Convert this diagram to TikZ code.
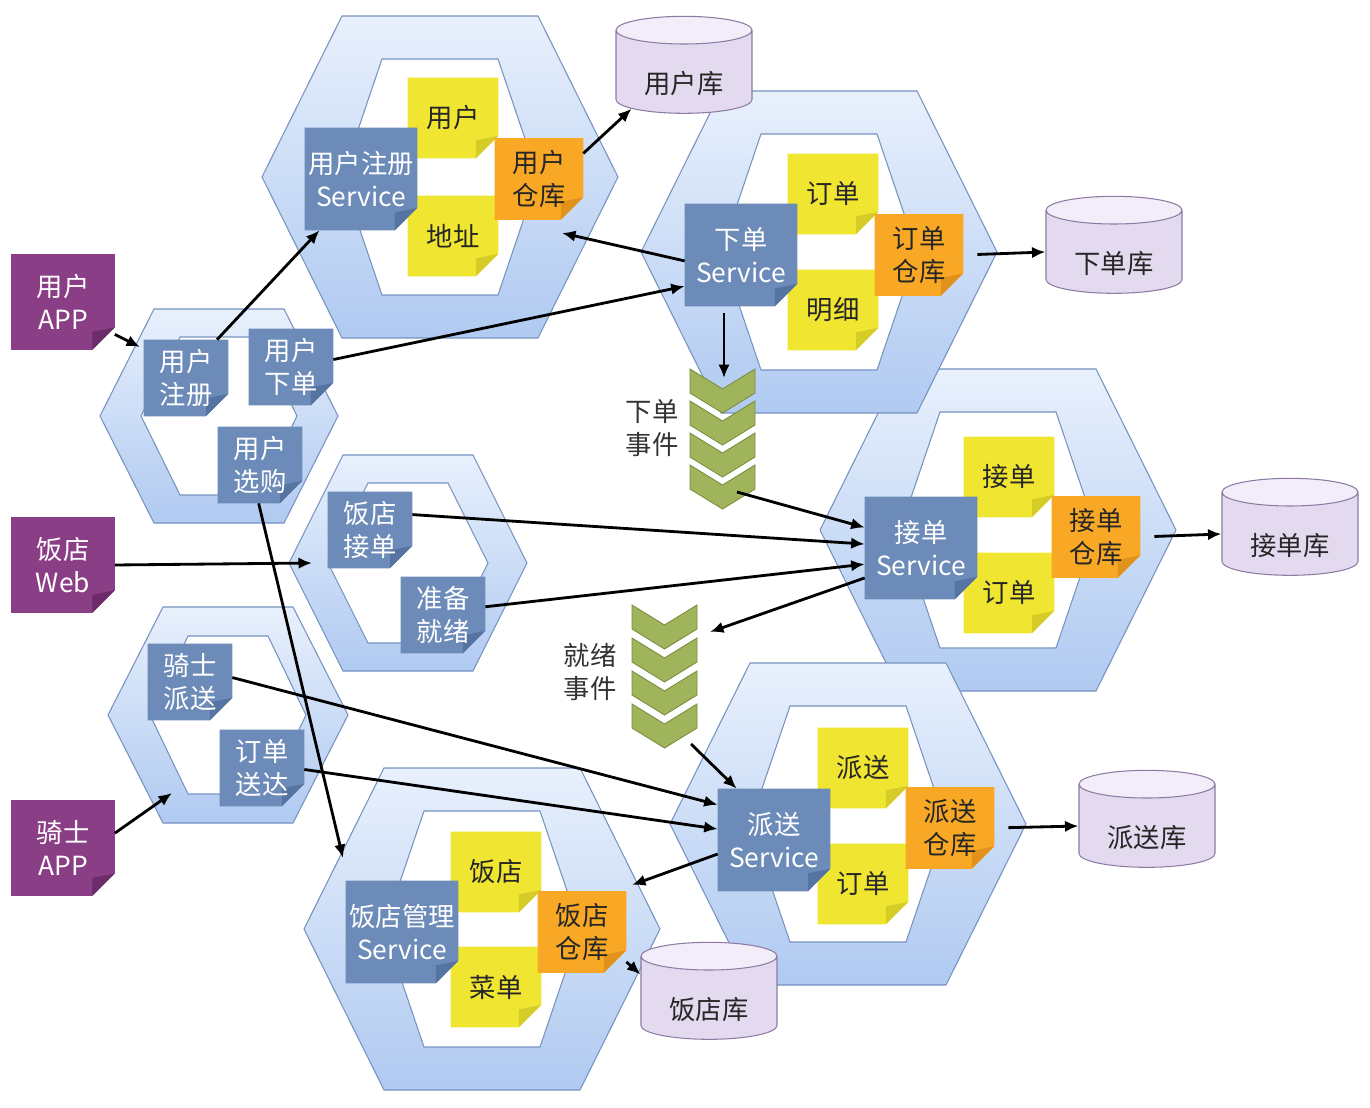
\documentclass[tikz,border=0pt]{standalone}
\usepackage{fontspec}
\setmainfont{Noto Sans CJK SC}
\usepackage{tikz}
\usetikzlibrary{arrows.meta,shapes.geometric}
\definecolor{hextop}{RGB}{232,240,252}
\definecolor{hexbot}{RGB}{176,202,241}
\definecolor{hexline}{RGB}{118,146,192}
\definecolor{svcblue}{RGB}{108,139,184}
\definecolor{svcfold}{RGB}{86,116,162}
\definecolor{noteyellow}{RGB}{240,230,50}
\definecolor{yellowfold}{RGB}{214,204,40}
\definecolor{repoorange}{RGB}{248,168,36}
\definecolor{orangefold}{RGB}{224,146,28}
\definecolor{apppurple}{RGB}{138,62,134}
\definecolor{purplefold}{RGB}{108,44,106}
\definecolor{dbbody}{RGB}{228,218,240}
\definecolor{dbtop}{RGB}{242,237,248}
\definecolor{dbline}{RGB}{140,124,164}
\definecolor{evgreen}{RGB}{160,180,92}
\definecolor{evline}{RGB}{122,142,62}
\pgfdeclarelayer{hexes}
\pgfdeclarelayer{notes}
\pgfsetlayers{hexes,notes,main}
\tikzset{
  note/.style 2 args={rectangle, inner sep=0pt, align=center,
    append after command={\pgfextra{\begin{pgfinterruptpath}\begin{pgfonlayer}{notes}
      \fill[#1] (\tikzlastnode.north west) -- (\tikzlastnode.north east)
        -- ([yshift=4.5mm]\tikzlastnode.south east) -- ([xshift=-4.5mm]\tikzlastnode.south east)
        -- (\tikzlastnode.south west) -- cycle;
      \fill[#2] ([yshift=4.5mm]\tikzlastnode.south east) -- ([xshift=-4.5mm]\tikzlastnode.south east)
        -- ([xshift=-4.5mm,yshift=3.6mm]\tikzlastnode.south east) -- cycle;
    \end{pgfonlayer}\end{pgfinterruptpath}}}},
  svcbox/.style={note={svcblue}{svcfold}, text=white, minimum width=2.24cm, minimum height=2.04cm},
  ctlbox/.style={note={svcblue}{svcfold}, text=white, minimum width=1.68cm, minimum height=1.52cm},
  entnote/.style={note={noteyellow}{yellowfold}, text=black!85, minimum width=1.8cm, minimum height=1.6cm},
  repnote/.style={note={repoorange}{orangefold}, text=black!85, minimum width=1.76cm, minimum height=1.62cm},
  appnote/.style={note={apppurple}{purplefold}, text=white, minimum width=2.06cm, minimum height=1.9cm},
  dbase/.style={cylinder, shape border rotate=90, aspect=0.35, draw=dbline, line width=0.6pt,
    cylinder uses custom fill, cylinder body fill=dbbody, cylinder end fill=dbtop,
    minimum width=2.72cm, minimum height=1.94cm, inner sep=0pt, text=black!85,
    text height=27pt, text depth=3pt},
  outerhex/.style={draw=hexline, line width=0.6pt, top color=hextop, bottom color=hexbot},
  innerhex/.style={draw=hexline, line width=0.6pt, fill=white},
  chevron/.style={fill=evgreen, draw=evline, line width=0.5pt},
  evlabel/.style={align=center, text=black!80},
  arrow/.style={-{Latex[length=2.7mm,width=2.3mm]}, line width=1.6pt}
}
\begin{document}
\begin{tikzpicture}[x=0.02cm, y=-0.02cm, font=\fontsize{15}{18.5}\selectfont]
\useasboundingbox (0,0) rectangle (1370,1108);

% hexagons (small ones first, then the bounded contexts)
\begin{pgfonlayer}{hexes}
\fill[white] (0,0) rectangle (1370,1108);
\foreach \cx/\cy/\pw/\pt/\ph/\qw/\qt/\qh in {219/416/119/65/107/78/39/79, 408/563/119/65/108/80/40/80,
    228/715/120/65/108/78/40/79, 998/530/178/98/161/98/58/118, 819/252/178/98/161/98/58/118,
    848/824/178/98/161/98/58/118, 440/177/178/98/161/98/58/118, 482/929/178/98/161/98/58/118}{
  \path[outerhex] (\cx-\pw,\cy) -- (\cx-\pt,\cy-\ph) -- (\cx+\pt,\cy-\ph) -- (\cx+\pw,\cy)
    -- (\cx+\pt,\cy+\ph) -- (\cx-\pt,\cy+\ph) -- cycle;
  \path[innerhex] (\cx-\qw,\cy) -- (\cx-\qt,\cy-\qh) -- (\cx+\qt,\cy-\qh) -- (\cx+\qw,\cy)
    -- (\cx+\qt,\cy+\qh) -- (\cx-\qt,\cy+\qh) -- cycle;
}
\end{pgfonlayer}

% clients
\node[appnote] (uapp) at (63,302) {用户\\APP};
\node[appnote] (rweb) at (63,565) {饭店\\Web};
\node[appnote] (rapp) at (63,848) {骑士\\APP};

% edge controllers
\node[ctlbox] (ureg) at (186,378) {用户\\注册};
\node[ctlbox] (uord) at (291,367) {用户\\下单};
\node[ctlbox] (ushop) at (260,465) {用户\\选购};
\node[ctlbox] (racc) at (370,530) {饭店\\接单};
\node[ctlbox] (rrdy) at (443,615) {准备\\就绪};
\node[ctlbox] (kdisp) at (190,682) {骑士\\派送};
\node[ctlbox] (karr) at (262,768) {订单\\送达};

% user context
\node[entnote] (uent) at (453,118) {用户};
\node[entnote] (uaddr) at (453,236) {地址};
\node[svcbox] (usvc) at (361,179) {用户注册\\Service};
\node[repnote] (urepo) at (539,179) {用户\\仓库};

% order context
\node[entnote] (oent) at (833,194) {订单};
\node[entnote] (oitem) at (833,310) {明细};
\node[svcbox] (osvc) at (741,255) {下单\\Service};
\node[repnote] (orepo) at (919,255) {订单\\仓库};

% accept context
\node[entnote] (aent) at (1009,477) {接单};
\node[entnote] (aord) at (1009,593) {订单};
\node[svcbox] (asvc) at (921,548) {接单\\Service};
\node[repnote] (arepo) at (1096,537) {接单\\仓库};

% dispatch context
\node[entnote] (dent) at (863,768) {派送};
\node[entnote] (dord) at (863,884) {订单};
\node[svcbox] (dsvc) at (774,840) {派送\\Service};
\node[repnote] (drepo) at (950,828) {派送\\仓库};

% restaurant context
\node[entnote] (rent) at (496,872) {饭店};
\node[entnote] (rmenu) at (496,987) {菜单};
\node[svcbox] (rsvc) at (402,932) {饭店管理\\Service};
\node[repnote] (rrepo) at (582,932) {饭店\\仓库};

% databases
\node[dbase] (udb) at (684,72) {用户库};
\node[dbase] (odb) at (1114,252) {下单库};
\node[dbase] (adb) at (1290,534) {接单库};
\node[dbase] (ddb) at (1147,826) {派送库};
\node[dbase] (rdb) at (709,998) {饭店库};

% event streams
\foreach \k in {0,...,3}{
  \path[chevron] (690,369+32*\k) -- (722.5,389+32*\k) -- (755,369+32*\k) -- (755,393+32*\k)
    -- (722.5,413+32*\k) -- (690,393+32*\k) -- cycle;
  \path[chevron] (632,605+33*\k) -- (664.5,625+33*\k) -- (697,605+33*\k) -- (697,629+33*\k)
    -- (664.5,649+33*\k) -- (632,629+33*\k) -- cycle;
}
\node[evlabel] (oevlbl) at (652,428) {下单\\事件};
\node[evlabel] (revlbl) at (590,672) {就绪\\事件};

\coordinate (hexAin) at (140,347);
\coordinate (hexBin) at (312,563);
\coordinate (hexCin) at (172,793);
\coordinate (rctxin) at (343,858);
\coordinate (uctxin) at (562,233);
\coordinate (rctxe) at (632,885);
\coordinate (oevin) at (724,378);
\coordinate (oevout) at (737,492);
\coordinate (revin) at (710,632);
\coordinate (revout) at (691,744);

% connectors
\draw[arrow] (uapp.-32) -- (hexAin);
\draw[arrow] (ureg.51) -- (usvc.-129);
\draw[arrow] (uord.10) -- (osvc.-151);
\draw[arrow] (osvc.-174) -- (uctxin);
\draw[arrow] (urepo.30) -- (udb.-145);
\draw[arrow, shorten <=8pt] (orepo.east) -- (odb.west);
\draw[arrow, shorten <=4pt] (osvc.south -| oevin) -- (oevin);
\draw[arrow] (oevout) -- (asvc.160);
\draw[arrow] (racc.20) -- (asvc.176);
\draw[arrow] (rrdy.11) -- (asvc.-164);
\draw[arrow] (asvc.-152) -- (revin);
\draw[arrow] (rweb.east) -- (hexBin);
\draw[arrow] (ushop.-92) -- (rctxin);
\draw[arrow] (kdisp.6) -- (dsvc.148);
\draw[arrow] (karr.-2) -- (dsvc.169);
\draw[arrow] (revout) -- (dsvc.126);
\draw[arrow] (dsvc.-166) -- (rctxe);
\draw[arrow] (rrepo.-34) -- (rdb.161);
\draw[arrow, shorten <=8pt] (arepo.east) -- (adb.west);
\draw[arrow, shorten <=8pt] (drepo.east) -- (ddb.west);
\draw[arrow] (rapp.16) -- (hexCin);
\end{tikzpicture}
\end{document}
